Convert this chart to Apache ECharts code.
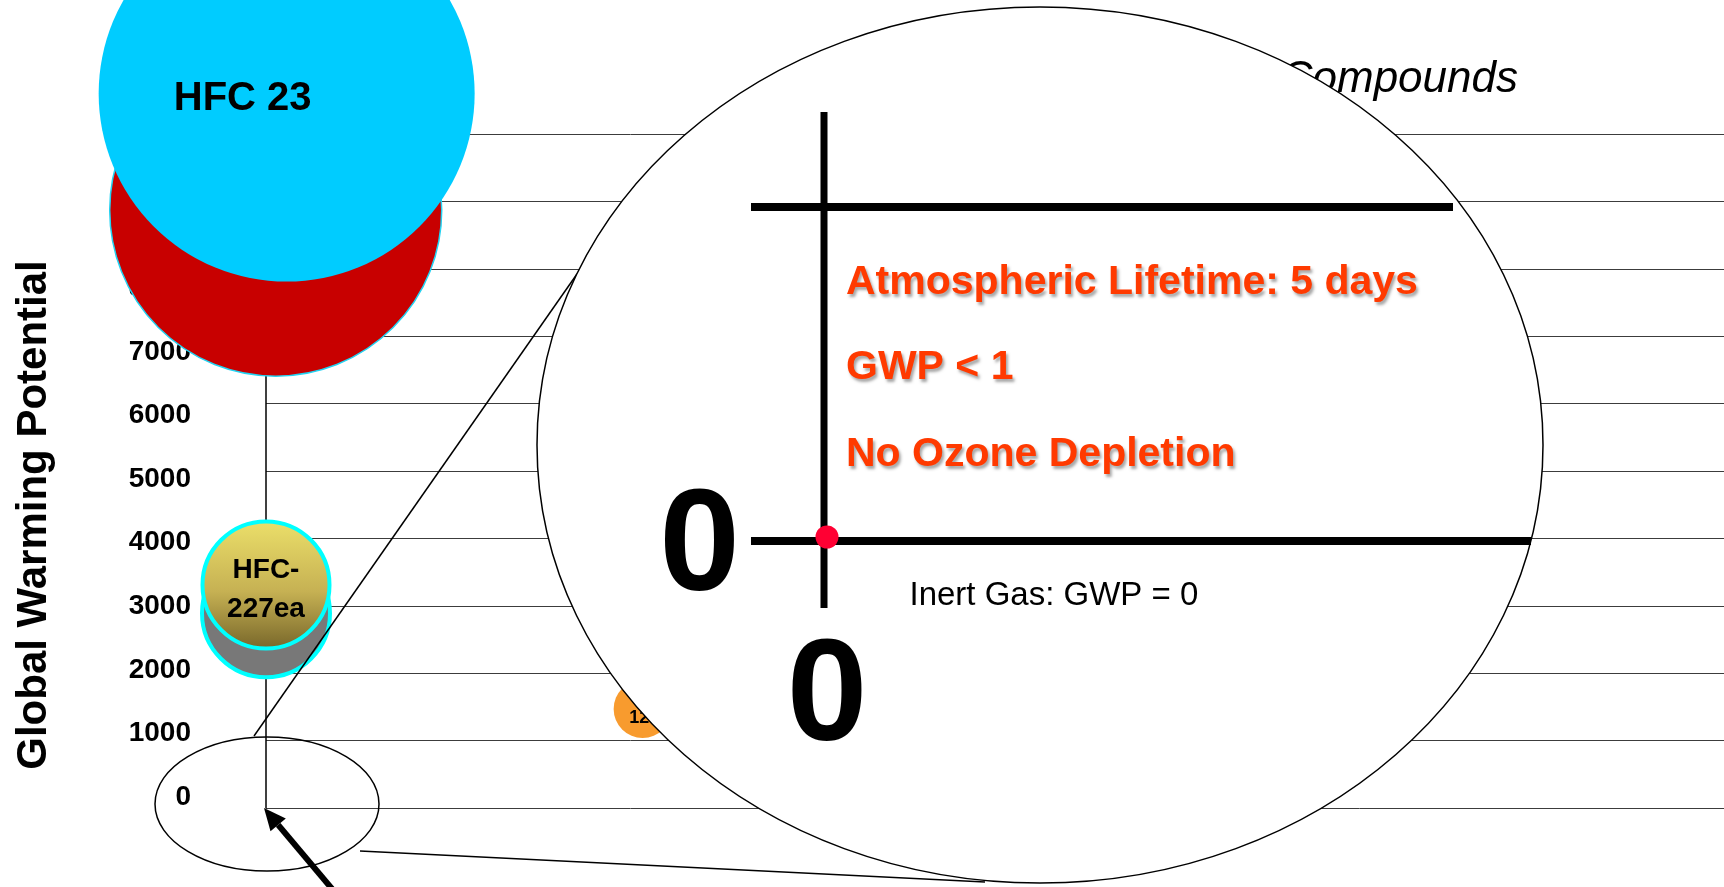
<!DOCTYPE html>
<html>
<head>
<meta charset="utf-8">
<script src="https://cdn.jsdelivr.net/npm/echarts@6/dist/echarts.min.js"></script>
<style>
html,body{margin:0;padding:0;background:#ffffff;}
#c{width:1724px;height:887px;}
</style>
</head>
<body>
<div id="c"></div>
<script>
// ---------------- data ----------------
const compounds = ['FC-3-1-10', 'HFC 23', 'HFC-125', 'HFC-227ea', '1211'];
const odp = [0.08, 0.17, 0, 0, 3.1];               // x: ozone depletion
const gwp = [8870, 10600, 2890, 3310, 1470];       // y: global warming potential
const bubbleLabels = ['', 'HFC 23', '', 'HFC-\n227ea', '1211'];
const yTicks = [0, 1000, 2000, 3000, 4000, 5000, 6000, 7000, 8000, 9000, 10000];
const insetPointName = ['Inert Gas'];
const insetOdp = [0];
const insetGwp = [0];
const insetTickLabels = [0];
const titleText = 'Fire Suppression Compounds';
const yAxisTitle = 'Global Warming Potential';
const notes = ['Atmospheric Lifetime: 5 days', 'GWP < 1', 'No Ozone Depletion'];
const inertLabel = 'Inert Gas: GWP = 0';

// ---------------- styles ----------------
const FONT = "'Liberation Sans', Arial, sans-serif";
const bubbleStyle = {
  'FC-3-1-10': { size: 332, color: '#c80000', border: '#22d3f2', bw: 1.5 },
  'HFC 23':    { size: 376, color: '#00ccff', border: null, bw: 0,
                 label: { fontSize: 40, offset: [-44, 5] } },
  'HFC-125':   { size: 128, color: '#787878', border: '#00ffff', bw: 4 },
  'HFC-227ea': { size: 127, color: new echarts.graphic.LinearGradient(0, 0, 0, 1, [
                   { offset: 0, color: '#ece06a' },
                   { offset: 0.55, color: '#c6b153' },
                   { offset: 1, color: '#766529' }]),
                 border: '#00ffff', bw: 4,
                 label: { fontSize: 28, lineHeight: 39, offset: [0, 5] } },
  '1211':      { size: 58, color: '#f89b2e', border: null, bw: 0,
                 label: { fontSize: 18, offset: [6, 9] } }
};

const chart = echarts.init(document.getElementById('c'), null, { renderer: 'canvas' });

const mainData = compounds.map((n, i) => {
  const s = bubbleStyle[n];
  return {
    name: n,
    value: [odp[i], gwp[i]],
    symbolSize: s.size,
    itemStyle: { color: s.color, opacity: 1, borderColor: s.border || 'transparent', borderWidth: s.bw },
    label: s.label ? Object.assign({
      show: true, position: 'inside', color: '#000', fontWeight: 'bold', fontFamily: FONT,
      formatter: bubbleLabels[i]
    }, s.label) : { show: false }
  };
});

const insetData = insetPointName.map((n, i) => ({ name: n, value: [insetOdp[i], insetGwp[i]] }));

const option = {
  animation: false,
  backgroundColor: '#ffffff',
  title: {
    text: titleText, right: 206, top: 58, padding: 0, z: 6,
    textStyle: { fontFamily: FONT, fontStyle: 'italic', fontWeight: 'normal', fontSize: 44, color: '#000' }
  },
  grid: [
    { left: 266, right: 0, top: 134, bottom: 79 },     // main plot (grid lines)
    { left: 266, right: 0, top: 161, bottom: 90 },     // tick labels scale
    { left: 827, top: 207, width: 600, height: 330 }   // magnified inset
  ],
  xAxis: [
    { gridIndex: 0, type: 'value', min: 0, max: 12, show: false },
    { gridIndex: 1, type: 'value', min: 0, max: 1, show: false },
    { gridIndex: 2, type: 'value', min: 0, max: 1, interval: 1, z: 130,
      axisLine: { show: false }, axisTick: { show: false }, splitLine: { show: false },
      axisLabel: { show: true, margin: 91, fontSize: 145, fontWeight: 'bold', fontFamily: FONT, color: '#000',
        formatter: v => insetTickLabels.includes(v) ? String(v) : '' } }
  ],
  yAxis: [
    { gridIndex: 0, type: 'value', min: 0, max: 10000, interval: 1000,
      axisLine: { show: true, lineStyle: { color: '#000', width: 1.5 } },
      axisTick: { show: false }, axisLabel: { show: false },
      splitLine: { show: true, lineStyle: { color: '#3c3c3c', width: 1 } } },
    { gridIndex: 1, type: 'value', min: 0, max: 10000, interval: 1000,
      axisLine: { show: false }, axisTick: { show: false }, splitLine: { show: false },
      axisLabel: { show: true, margin: 75, fontSize: 28, fontWeight: 'bold', fontFamily: FONT, color: '#000',
        formatter: v => yTicks.includes(v) ? String(v) : '' } },
    { gridIndex: 2, type: 'value', min: 0, max: 1, interval: 1, z: 130,
      axisLine: { show: false }, axisTick: { show: false }, splitLine: { show: false },
      axisLabel: { show: true, margin: 87, verticalAlign: 'top', lineHeight: 26,
        fontSize: 145, fontWeight: 'bold', fontFamily: FONT, color: '#000',
        formatter: v => insetTickLabels.includes(v) ? String(v) : '' } }
  ],
  series: [
    { type: 'scatter', name: 'Compounds', xAxisIndex: 0, yAxisIndex: 0, clip: false, z: 2,
      itemStyle: { opacity: 1 }, emphasis: { disabled: true }, data: mainData },
    { type: 'scatter', name: 'Inert Gas', xAxisIndex: 2, yAxisIndex: 2, clip: false, z: 130,
      symbolSize: 23, itemStyle: { color: '#ff0033', opacity: 1 }, emphasis: { disabled: true },
      label: { show: true, formatter: inertLabel, position: [94, 70], align: 'left', verticalAlign: 'middle',
        fontSize: 33, fontFamily: FONT, color: '#000' },
      data: insetData }
  ]
};
chart.setOption(option);

// ---------------- annotations ----------------
const O = chart.convertToPixel({ gridIndex: 0 }, [0, 0]);
const E = { cx: 1040, cy: 445, rx: 503, ry: 438 };
const redText = (t, y) => ({
  type: 'text', x: 846, y: y, z: 115,
  style: { text: t, font: 'bold 41px ' + FONT, fill: '#ff3a00',
    textAlign: 'left', align: 'left', textVerticalAlign: 'middle', verticalAlign: 'middle',
    textShadowColor: 'rgba(0,0,0,0.35)', textShadowBlur: 3, textShadowOffsetX: 2, textShadowOffsetY: 3 }
});
const tip = [O[0] - 2, O[1]];
const tail = [O[0] + 67, O[1] + 82];
const dx = tip[0] - tail[0], dy = tip[1] - tail[1], L = Math.hypot(dx, dy);
const ux = dx / L, uy = dy / L, px = -uy, py = ux;
const headLen = 22, headW = 10;
const base = [tip[0] - ux * headLen, tip[1] - uy * headLen];

chart.setOption({
  graphic: [
    { type: 'text', x: 34, y: 515, rotation: Math.PI / 2, z: 60,
      style: { text: yAxisTitle, font: 'bold 42px ' + FONT, fill: '#000',
        textAlign: 'center', align: 'center', textVerticalAlign: 'middle', verticalAlign: 'middle' } },
    { type: 'ellipse', z: 50, shape: { cx: O[0] + 1, cy: O[1] - 4, rx: 112, ry: 67 },
      style: { fill: 'none', stroke: '#000', lineWidth: 1.5 } },
    { type: 'line', z: 50, shape: { x1: O[0] - 12, y1: O[1] - 72, x2: 577, y2: 274 },
      style: { stroke: '#000', lineWidth: 1.5 } },
    { type: 'line', z: 50, shape: { x1: O[0] + 94, y1: O[1] + 43, x2: 985, y2: 882 },
      style: { stroke: '#000', lineWidth: 1.5 } },
    { type: 'ellipse', z: 100, shape: E, style: { fill: '#fff', stroke: '#000', lineWidth: 1.5 } },
    { type: 'line', z: 110, shape: { x1: 824, y1: 112, x2: 824, y2: 608 }, style: { stroke: '#000', lineWidth: 7 } },
    { type: 'line', z: 110, shape: { x1: 751, y1: 207, x2: 1453, y2: 207 }, style: { stroke: '#000', lineWidth: 8 } },
    { type: 'line', z: 110, shape: { x1: 751, y1: 541, x2: 1531, y2: 541 }, style: { stroke: '#000', lineWidth: 8 } },
    redText(notes[0], 283),
    redText(notes[1], 368),
    redText(notes[2], 455),
    { type: 'line', z: 120, shape: { x1: tail[0], y1: tail[1], x2: base[0], y2: base[1] },
      style: { stroke: '#000', lineWidth: 6 } },
    { type: 'polygon', z: 120,
      shape: { points: [tip, [base[0] + px * headW, base[1] + py * headW], [base[0] - px * headW, base[1] - py * headW]] },
      style: { fill: '#000' } }
  ]
});
</script>
</body>
</html>
